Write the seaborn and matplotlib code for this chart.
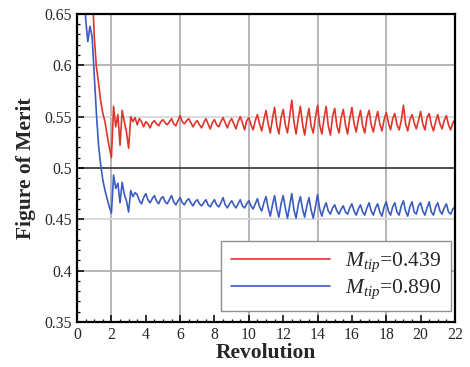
import numpy as np
import pandas as pd
import matplotlib
matplotlib.use("Agg")
import matplotlib.pyplot as plt
from matplotlib.ticker import MultipleLocator, FixedLocator
import seaborn as sns

# ---------------- data ----------------
labels = [r"$M_{tip}$=0.439", r"$M_{tip}$=0.890"]
colors = ["#e0352b", "#3b5cc0"]
step = 0.125
red_start = 0.875
blue_start = 0.375

fm_red = [
    # transient 0.875 .. 3.375
    0.680, 0.628, 0.598, 0.583, 0.565, 0.553, 0.545, 0.532, 0.520, 0.510,
    0.560, 0.540, 0.552, 0.522, 0.556, 0.545, 0.535, 0.519, 0.550, 0.545, 0.549,
    # 3.5 .. 3.875
    0.542, 0.548, 0.545, 0.540,
    # 4 .. 21.875
    0.545, 0.543, 0.539, 0.544, 0.546, 0.543, 0.541, 0.545,
    0.547, 0.544, 0.542, 0.545, 0.548, 0.543, 0.541, 0.546,
    0.551, 0.545, 0.543, 0.546, 0.548, 0.544, 0.540, 0.544,
    0.546, 0.542, 0.539, 0.544, 0.548, 0.543, 0.538, 0.544,
    0.547, 0.542, 0.540, 0.545, 0.549, 0.544, 0.539, 0.545,
    0.548, 0.543, 0.538, 0.545, 0.550, 0.544, 0.537, 0.546,
    0.549, 0.542, 0.537, 0.546, 0.552, 0.543, 0.536, 0.547,
    0.556, 0.543, 0.534, 0.548, 0.559, 0.542, 0.533, 0.549,
    0.557, 0.542, 0.534, 0.550, 0.566, 0.545, 0.533, 0.548,
    0.560, 0.543, 0.532, 0.547, 0.558, 0.541, 0.534, 0.549,
    0.561, 0.542, 0.533, 0.548, 0.560, 0.541, 0.532, 0.550,
    0.558, 0.541, 0.534, 0.549, 0.557, 0.542, 0.533, 0.548,
    0.559, 0.543, 0.535, 0.547, 0.556, 0.541, 0.534, 0.549,
    0.556, 0.542, 0.535, 0.546, 0.555, 0.543, 0.536, 0.547,
    0.554, 0.544, 0.537, 0.548, 0.553, 0.542, 0.537, 0.546,
    0.561, 0.543, 0.536, 0.547, 0.552, 0.544, 0.538, 0.546,
    0.555, 0.543, 0.537, 0.549, 0.553, 0.542, 0.536, 0.545,
    0.552, 0.543, 0.538, 0.546, 0.551, 0.542, 0.537, 0.544,
    # 22
    0.547,
]

fm_blue = [
    # transient 0.375 .. 3.375
    0.700, 0.645, 0.623, 0.638, 0.628, 0.590, 0.553, 0.522, 0.503, 0.488,
    0.478, 0.470, 0.462, 0.456, 0.493, 0.480, 0.485, 0.466, 0.486, 0.474,
    0.468, 0.457, 0.478, 0.472, 0.476,
    # 3.5 .. 3.875
    0.474, 0.468, 0.465, 0.471,
    # 4 .. 21.875
    0.475, 0.469, 0.466, 0.470, 0.473, 0.468, 0.465, 0.470,
    0.472, 0.467, 0.465, 0.469, 0.473, 0.467, 0.464, 0.468,
    0.471, 0.466, 0.464, 0.468, 0.470, 0.466, 0.463, 0.467,
    0.469, 0.465, 0.463, 0.466, 0.469, 0.464, 0.462, 0.466,
    0.469, 0.464, 0.462, 0.466, 0.471, 0.464, 0.461, 0.465,
    0.468, 0.464, 0.461, 0.465, 0.469, 0.463, 0.461, 0.465,
    0.468, 0.463, 0.460, 0.465, 0.470, 0.462, 0.458, 0.466,
    0.472, 0.461, 0.453, 0.464, 0.473, 0.460, 0.452, 0.465,
    0.473, 0.461, 0.451, 0.463, 0.475, 0.459, 0.451, 0.464,
    0.472, 0.460, 0.452, 0.463, 0.471, 0.459, 0.451, 0.462,
    0.474, 0.460, 0.453, 0.461, 0.466, 0.458, 0.455, 0.461,
    0.464, 0.458, 0.455, 0.460, 0.463, 0.457, 0.455, 0.461,
    0.465, 0.458, 0.454, 0.460, 0.464, 0.457, 0.454, 0.461,
    0.466, 0.458, 0.454, 0.461, 0.465, 0.457, 0.453, 0.462,
    0.467, 0.458, 0.454, 0.462, 0.466, 0.457, 0.454, 0.463,
    0.468, 0.458, 0.453, 0.462, 0.467, 0.457, 0.455, 0.463,
    0.466, 0.458, 0.454, 0.461, 0.467, 0.457, 0.454, 0.462,
    0.466, 0.458, 0.455, 0.461, 0.465, 0.457, 0.455, 0.460,
    # 22
    0.462,
]

rev_red = red_start + step * np.arange(len(fm_red))
rev_blue = blue_start + step * np.arange(len(fm_blue))

x_ticks = [0, 2, 4, 6, 8, 10, 12, 14, 16, 18, 20, 22]
y_ticks = [0.35, 0.4, 0.45, 0.5, 0.55, 0.6, 0.65]
y_ticklabels = ["0.35", "0.4", "0.45", "0.5", "0.55", "0.6", "0.65"]

df = pd.concat([
    pd.DataFrame({"Revolution": rev_red, "FM": fm_red, "case": labels[0]}),
    pd.DataFrame({"Revolution": rev_blue, "FM": fm_blue, "case": labels[1]}),
], ignore_index=True)

# ---------------- style ----------------
sns.set_style("ticks")
plt.rcParams["font.family"] = ["Liberation Serif", "DejaVu Serif"]
plt.rcParams["mathtext.fontset"] = "custom"
plt.rcParams["mathtext.rm"] = "Liberation Serif"
plt.rcParams["mathtext.it"] = "Liberation Serif:italic"
plt.rcParams["mathtext.bf"] = "Liberation Serif:bold"

fig = plt.figure(figsize=(4.7, 3.67), dpi=100)
ax = fig.add_axes([0.164, 0.123, 0.804, 0.839])

# reference lines (grid)
for xv in [2, 6, 10, 14, 18]:
    ax.axvline(xv, color="#b0b0b0", lw=1.3, zorder=0)
for yv, c in [(0.6, "#b0b0b0"), (0.55, "#d8d8d8"), (0.5, "#404040"),
              (0.45, "#d8d8d8"), (0.4, "#b0b0b0")]:
    ax.axhline(yv, color=c, lw=1.3, zorder=0)

sns.lineplot(data=df, x="Revolution", y="FM", hue="case",
             palette=dict(zip(labels, colors)), linewidth=1.2,
             ax=ax, sort=False, estimator=None, legend=True)

ax.set_xlim(0, 22)
ax.set_ylim(0.35, 0.65)
ax.xaxis.set_major_locator(FixedLocator(x_ticks))
ax.xaxis.set_minor_locator(MultipleLocator(0.5))
ax.yaxis.set_major_locator(FixedLocator(y_ticks))
ax.set_yticklabels(y_ticklabels)
ax.yaxis.set_minor_locator(MultipleLocator(0.01))
ax.tick_params(which="both", direction="in", top=False, right=False,
               labelsize=11.3, pad=4, color="black")
ax.tick_params(which="major", length=5, width=1.1)
ax.tick_params(which="minor", length=2.5, width=0.9)

for s in ax.spines.values():
    s.set_linewidth(1.6)
    s.set_color("black")
    s.set_visible(True)

ax.set_xlabel("Revolution", fontsize=15.5, fontweight="bold", labelpad=0)
ax.set_ylabel("Figure of Merit", fontsize=15.5, fontweight="bold", labelpad=6)

handles, labs = ax.get_legend_handles_labels()
leg = ax.legend(handles, labs, loc="lower right", bbox_to_anchor=(0.989, 0.036),
                borderaxespad=0, fontsize=15.5, handlelength=4.6,
                handletextpad=0.7, labelspacing=0.15, borderpad=0.45,
                frameon=True, fancybox=False, edgecolor="#909090",
                framealpha=1)
leg.get_frame().set_linewidth(1.0)

fig.savefig("out.png", dpi=100)
